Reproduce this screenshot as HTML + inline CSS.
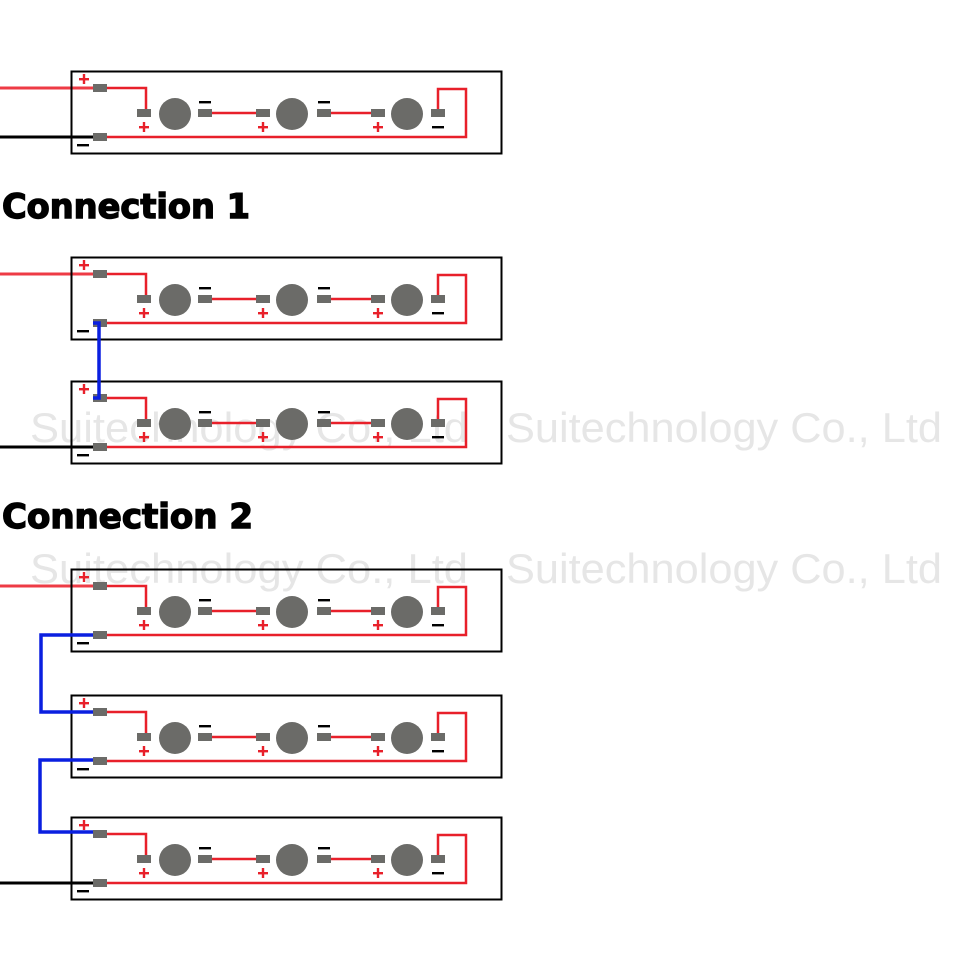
<!DOCTYPE html>
<html><head><meta charset="utf-8"><style>
html,body{margin:0;padding:0;background:#fff;width:960px;height:960px;overflow:hidden}
</style></head><body>
<div id="c"></div>
<script>
var s='<svg xmlns="http://www.w3.org/2000/svg" width="960" height="960" viewBox="0 0 960 960">';
var wm='font-family="Liberation Sans, sans-serif" font-size="42" fill="#e6e6e6"';
s+='<text x="30" y="442" '+wm+' textLength="438" lengthAdjust="spacingAndGlyphs">Suitechnology Co., Ltd</text>';
s+='<text x="506" y="442" '+wm+' textLength="436" lengthAdjust="spacingAndGlyphs">Suitechnology Co., Ltd</text>';
s+='<text x="30" y="583" '+wm+' textLength="438" lengthAdjust="spacingAndGlyphs">Suitechnology Co., Ltd</text>';
s+='<text x="506" y="583" '+wm+' textLength="436" lengthAdjust="spacingAndGlyphs">Suitechnology Co., Ltd</text>';
var R='#e8202a',G='#6b6b68';
function mod(t,inRed,inBlack){
  var o='';
  var y1=t+17,y2=t+66,ym=t+42;
  if(inRed) o+='<line x1="0" y1="'+y1+'" x2="95" y2="'+y1+'" stroke="#ee3b45" stroke-width="3"/>';
  if(inBlack) o+='<line x1="0" y1="'+y2+'" x2="95" y2="'+y2+'" stroke="#000" stroke-width="3"/>';
  o+='<rect x="71.5" y="'+(t+0.5)+'" width="430" height="82" fill="none" stroke="#000" stroke-width="2"/>';
  o+='<polyline points="107,'+y1+' 146,'+y1+' 146,'+ym+'" fill="none" stroke="'+R+'" stroke-width="2.5"/>';
  o+='<line x1="212" y1="'+ym+'" x2="256" y2="'+ym+'" stroke="'+R+'" stroke-width="2.5"/>';
  o+='<line x1="327" y1="'+ym+'" x2="371" y2="'+ym+'" stroke="'+R+'" stroke-width="2.5"/>';
  o+='<polyline points="438,'+ym+' 438,'+(t+18)+' 466,'+(t+18)+' 466,'+y2+' 107,'+y2+'" fill="none" stroke="'+R+'" stroke-width="2.5"/>';
  function pad(x,y){o+='<rect x="'+x+'" y="'+(y-4)+'" width="14" height="8" fill="'+G+'"/>';}
  pad(93,y1);pad(93,y2);
  [137,256,371].forEach(function(x){pad(x,ym);});
  [198,317,431].forEach(function(x){pad(x,ym);});
  [175,292,407].forEach(function(x){o+='<circle cx="'+x+'" cy="'+(ym+1)+'" r="16" fill="'+G+'"/>';});
  function plus(cx,cy){o+='<rect x="'+(cx-5)+'" y="'+(cy-1)+'" width="10" height="2.4" fill="'+R+'"/><rect x="'+(cx-1.2)+'" y="'+(cy-5)+'" width="2.4" height="10" fill="'+R+'"/>';}
  function minus(cx,cy){o+='<rect x="'+(cx-6)+'" y="'+(cy-1)+'" width="12" height="2.4" fill="#000"/>';}
  plus(84,t+8);minus(83,t+74);
  plus(144,t+56);plus(263,t+56);plus(378,t+56);
  minus(205,t+31);minus(324,t+31);minus(438,t+56);
  return o;
}
s+=mod(71,1,1);
s+=mod(257,1,0);
s+=mod(381,0,1);
s+=mod(569,1,0);
s+=mod(695,0,0);
s+=mod(817,0,1);
var B='#0a1fe0';
s+='<polyline points="93,323 99,323 99,398 93,398" fill="none" stroke="'+B+'" stroke-width="3.5"/>';
s+='<polyline points="93,635 41,635 41,712 93,712" fill="none" stroke="'+B+'" stroke-width="3.5"/>';
s+='<polyline points="93,760 40,760 40,832 93,832" fill="none" stroke="'+B+'" stroke-width="3.5"/>';
var hd='font-family="DejaVu Sans, Liberation Sans, sans-serif" font-weight="bold" font-size="34" fill="#000" stroke="#000" stroke-width="1.4"';
s+='<text x="2" y="218" '+hd+' textLength="248" lengthAdjust="spacingAndGlyphs">Connection 1</text>';
s+='<text x="2" y="528" '+hd+' textLength="251" lengthAdjust="spacingAndGlyphs">Connection 2</text>';
s+='</svg>';
document.getElementById('c').innerHTML=s;
</script>
</body></html>
